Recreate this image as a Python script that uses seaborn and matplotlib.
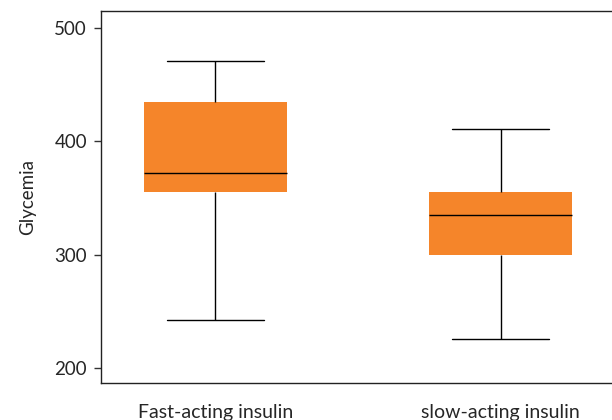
import pandas as pd
import seaborn as sns
import matplotlib.pyplot as plt

# Five-number summaries (min, q1, median, q3, max)
fast_acting = [243, 355, 372, 435, 471]
slow_acting = [226, 300, 335, 355, 411]
groups = ['Fast-acting insulin', 'slow-acting insulin']

df = pd.DataFrame({
    'group': [groups[0]] * len(fast_acting) + [groups[1]] * len(slow_acting),
    'Glycemia': fast_acting + slow_acting,
})

sns.set_style('white')
plt.rcParams['font.family'] = ['Lato', 'DejaVu Sans']

fig = plt.figure(figsize=(6.12, 4.2), dpi=100)
ax = fig.add_axes([0.165, 0.088, 0.84, 0.886])

sns.boxplot(
    data=df,
    x='group',
    y='Glycemia',
    color='#F5852A',
    saturation=1,
    width=0.5,
    whis=10,
    linecolor='black',
    linewidth=1,
    boxprops=dict(edgecolor='none'),
    capwidths=0.34,
    ax=ax
)

ax.set_xlim(-0.4, 1.4)
ax.set_ylim(187, 515)
ax.set_yticks([200, 300, 400, 500])
ax.set_xlabel('')
ax.set_ylabel('Glycemia', fontsize=13.5, labelpad=13)
ax.tick_params(axis='y', labelsize=13.5, length=5, width=1, pad=5,
               color='#333333', left=True)
ax.tick_params(axis='x', labelsize=14, length=0, pad=15)

for side in ['left', 'top', 'right', 'bottom']:
    ax.spines[side].set_color('#222222')
    ax.spines[side].set_linewidth(1)

fig.savefig('out.png', dpi=100)
